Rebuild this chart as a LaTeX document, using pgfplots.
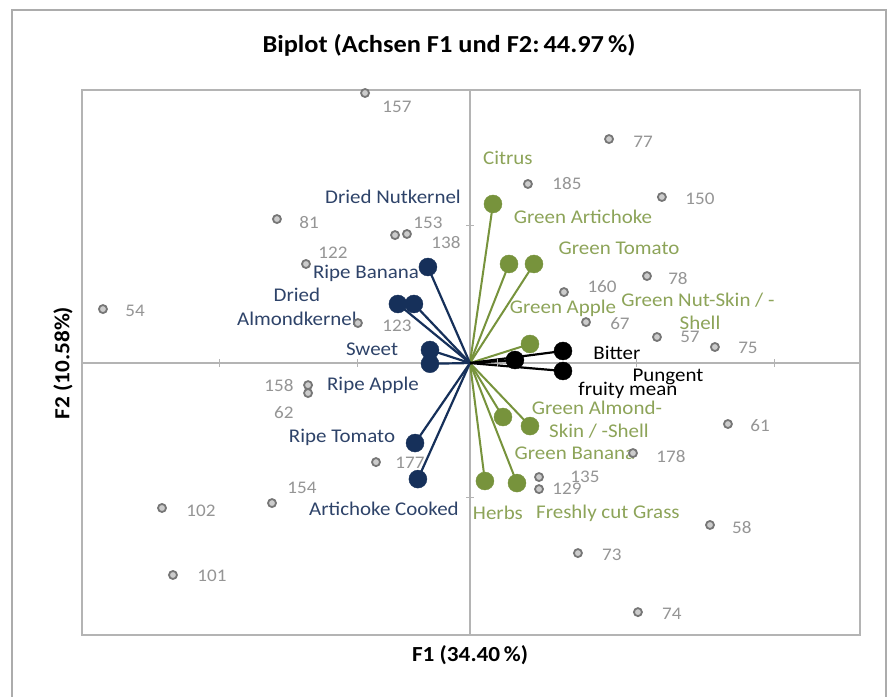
\documentclass[border=0pt]{standalone}
\usepackage{fontspec}
\setmainfont{Carlito}[FakeStretch=1.08]
\usepackage{pgfplots}
\usepackage{pgfplotstable}
\pgfplotsset{compat=1.18}
\definecolor{navyM}{HTML}{16305A}
\definecolor{navyT}{HTML}{2E4369}
\definecolor{grn}{HTML}{77933C}
\definecolor{grnT}{HTML}{8DA459}
\definecolor{ptgray}{HTML}{767676}
\definecolor{numgray}{HTML}{959595}
\definecolor{axgray}{HTML}{B4B4B4}

\pgfplotstableread{
x y lx ly label
-0.766 1.971 -0.533 1.869 157
1.015 1.635 1.263 1.613 77
0.423 1.307 0.708 1.307 185
1.401 1.212 1.679 1.197 150
-1.409 1.051 -1.175 1.029 81
-0.547 0.934 -0.307 1.022 153
-0.460 0.942 -0.175 0.883 138
-1.197 0.723 -1.000 0.803 122
-2.679 0.394 -2.445 0.380 54
-0.818 0.292 -0.533 0.270 123
0.686 0.518 0.964 0.555 160
1.292 0.635 1.518 0.620 78
0.847 0.299 1.095 0.285 67
1.365 0.190 1.606 0.190 57
1.788 0.117 2.029 0.109 75
-1.182 -0.161 -1.394 -0.161 158
-1.182 -0.219 -1.358 -0.365 62
-0.686 -0.723 -0.438 -0.730 177
-1.445 -1.022 -1.226 -0.912 154
-2.248 -1.058 -1.964 -1.080 102
-2.168 -1.547 -1.883 -1.555 101
1.883 -0.445 2.117 -0.460 61
1.190 -0.657 1.467 -0.679 178
0.504 -0.832 0.839 -0.832 135
0.504 -0.920 0.708 -0.920 129
1.752 -1.182 1.985 -1.197 58
0.788 -1.387 1.036 -1.401 73
1.226 -1.818 1.474 -1.832 74
}\obs

\pgfplotstableread{
x y
-0.307 0.701
-0.526 0.431
-0.409 0.431
-0.292 0.095
-0.292 -0.005
-0.401 -0.584
-0.380 -0.847
}\navyvec

\pgfplotstableread{
x y
0.168 1.161
0.285 0.723
0.467 0.723
0.438 0.139
0.241 -0.394
0.438 -0.460
0.109 -0.861
0.343 -0.876
}\greenvec

\pgfplotstableread{
x y
0.679 0.088
0.679 -0.058
0.328 0.022
}\blackvec

\pgfplotstableread{
lx ly label
-0.562 1.212 {Dried Nutkernel}
-0.759 0.657 {Ripe Banana}
-1.263 0.496 Dried
-1.263 0.321 Almondkernel
-0.715 0.102 Sweet
-0.708 -0.161 {Ripe Apple}
-0.934 -0.540 {Ripe Tomato}
-0.628 -1.066 {Artichoke Cooked}
}\navylab

\pgfplotstableread{
lx ly label
0.277 1.496 Citrus
0.825 1.066 {Green Artichoke}
1.088 0.839 {Green Tomato}
0.679 0.401 {Green Apple}
1.664 0.460 {Green Nut-Skin / -}
1.679 0.292 Shell
0.927 -0.328 {Green Almond-}
0.942 -0.496 {Skin / -Shell}
0.766 -0.657 {Green Banana}
0.204 -1.095 Herbs
1.007 -1.095 {Freshly cut Grass}
}\greenlab

\pgfplotstableread{
lx ly label
1.073 0.073 Bitter
1.445 -0.102 Pungent
1.153 -0.197 {fruity mean}
}\blacklab

\begin{document}
\begin{tikzpicture}
\useasboundingbox (0,0) rectangle (896bp,697bp);
\fill[white] (0,0) rectangle (896bp,697bp);
\draw[gray!65, line width=1.5bp] (12bp,-5bp) rectangle (886bp,687bp);
\begin{axis}[at={(82bp,62bp)}, anchor=south west, scale only axis,
  width=778bp, height=545bp,
  xmin=-2.832, xmax=2.847, ymin=-1.985, ymax=1.993,
  axis line style={axgray, line width=1.2bp}, ticks=none, clip=false,
  lbl/.style={only marks, mark=none, nodes near coords, point meta=explicit symbolic,
     nodes near coords style={anchor=center, inner sep=0pt}}]
% zero lines
\addplot[axgray, line width=1.2bp] coordinates {(-2.832,0) (2.847,0)};
\addplot[axgray, line width=1.2bp] coordinates {(0,-1.985) (0,1.993)};
\addplot[axgray, line width=1bp, only marks, mark=|, mark size=4bp] coordinates {(-1.825,0) (-0.818,0) (0.20,0) (1.219,0) (2.226,0)};
\addplot[axgray, line width=1bp, only marks, mark=-, mark size=4bp] coordinates {(0,1.007) (0,-0.985)};
% labels
\addplot[lbl, nodes near coords style={text=numgray, font=\fontsize{17.7bp}{20bp}\selectfont}] table[x=lx, y=ly, meta=label] {\obs};
\addplot[lbl, nodes near coords style={text=navyT, font=\fontsize{19.4bp}{22bp}\selectfont}] table[x=lx, y=ly, meta=label] {\navylab};
\addplot[lbl, nodes near coords style={text=grnT, font=\fontsize{19.4bp}{22bp}\selectfont}] table[x=lx, y=ly, meta=label] {\greenlab};
\addplot[lbl, nodes near coords style={text=black, font=\fontsize{19.4bp}{22bp}\selectfont}] table[x=lx, y=ly, meta=label] {\blacklab};
% observations
\addplot[only marks, mark=*, mark size=4bp, mark options={draw=ptgray, fill=gray!40, line width=1.8bp}] table[x=x, y=y] {\obs};
% vectors
\addplot[grn, line width=2bp, mark=none, quiver={u=\thisrow{x}, v=\thisrow{y}}] table[x expr=0, y expr=0] {\greenvec};
\addplot[navyM, line width=2.2bp, mark=none, quiver={u=\thisrow{x}, v=\thisrow{y}}] table[x expr=0, y expr=0] {\navyvec};
\addplot[black, line width=2.2bp, mark=none, quiver={u=\thisrow{x}, v=\thisrow{y}}] table[x expr=0, y expr=0] {\blackvec};
\addplot[only marks, mark=*, mark size=9bp, mark options={draw=grn, fill=grn}] table[x=x, y=y] {\greenvec};
\addplot[only marks, mark=*, mark size=9bp, mark options={draw=navyM, fill=navyM}] table[x=x, y=y] {\navyvec};
\addplot[only marks, mark=*, mark size=9bp, mark options={draw=black, fill=black}] table[x=x, y=y] {\blackvec};
\end{axis}
\node[font=\bfseries\fontsize{24.4bp}{29bp}\selectfont] at (449bp,652bp) {Biplot (Achsen F1 und F2:\,44.97\,\%)};
\node[font=\bfseries\fontsize{21.5bp}{25bp}\selectfont] at (470bp,42bp) {F1 (34.40\,\%)};
\node[font=\bfseries\fontsize{21.5bp}{25bp}\selectfont, rotate=90] at (63bp,334bp) {F2 (10.58\%)};
\end{tikzpicture}
\end{document}
